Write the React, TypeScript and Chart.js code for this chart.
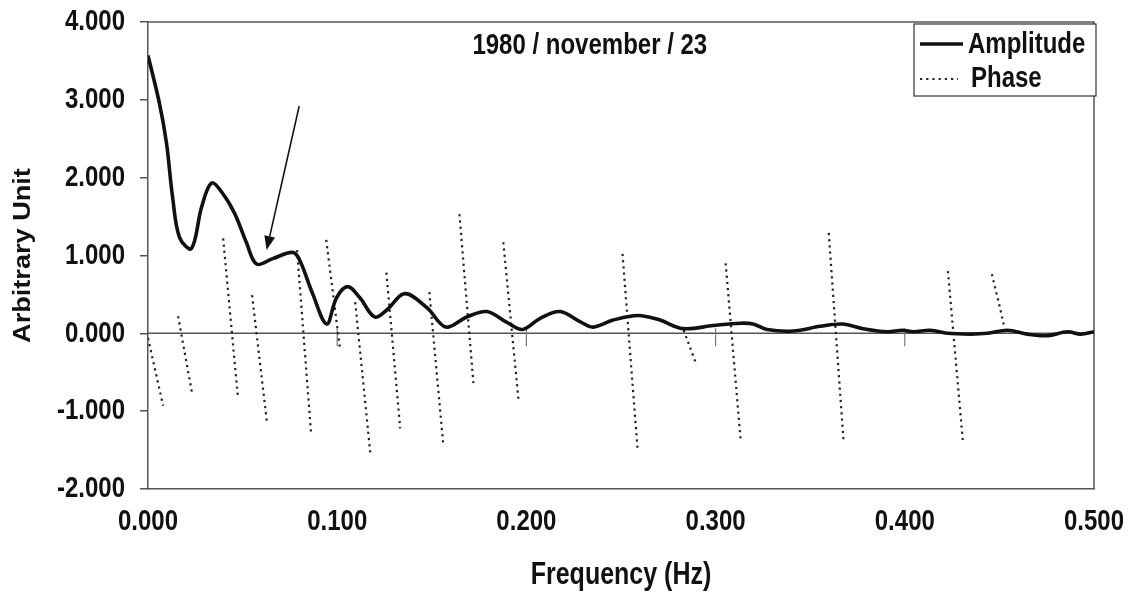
import { useEffect, useRef } from "react";
import { Chart, registerables } from "chart.js";

Chart.register(...registerables);

// ---- data ----
const ampFreq = [
  0.0, 0.006, 0.0098, 0.013, 0.0167, 0.023, 0.0283, 0.0336, 0.0394, 0.0458,
  0.0521, 0.0574, 0.0659, 0.0765, 0.0802, 0.087, 0.0944, 0.0997, 0.1056, 0.1119,
  0.1198, 0.1262, 0.1357, 0.1474, 0.1574, 0.1685, 0.1791, 0.1897, 0.1981, 0.2071,
  0.2177, 0.2283, 0.2352, 0.2458, 0.259, 0.2706, 0.2828, 0.2987, 0.313, 0.3198,
  0.3272, 0.341, 0.3553, 0.3669, 0.378, 0.3907, 0.3987, 0.4045, 0.4135, 0.4225,
  0.4347, 0.4437, 0.4542, 0.4648, 0.4754, 0.486, 0.4929, 0.5,
];
const ampValue = [
  3.57, 2.96, 2.44, 1.75, 1.23, 1.09, 1.62, 1.93, 1.8, 1.54,
  1.16, 0.89, 0.96, 1.04, 0.94, 0.51, 0.12, 0.46, 0.6, 0.46,
  0.21, 0.3, 0.51, 0.33, 0.08, 0.21, 0.28, 0.14, 0.05, 0.19,
  0.28, 0.15, 0.08, 0.17, 0.23, 0.17, 0.06, 0.1, 0.13, 0.12,
  0.05, 0.03, 0.09, 0.12, 0.06, 0.02, 0.04, 0.02, 0.04, 0.0,
  -0.01, 0.0, 0.04, -0.01, -0.03, 0.02, -0.01, 0.02,
];

// phase: separate dotted strokes, null values break the line
const phaseFreq = [
  0.0, 0.008, 0.008,
  0.0159, 0.0233, 0.0233,
  0.0397, 0.0476, 0.0476,
  0.055, 0.063, 0.063,
  0.0788, 0.0862, 0.0862,
  0.0942, 0.1016, 0.1016,
  0.1095, 0.1175, 0.1175,
  0.126, 0.1333, 0.1333,
  0.1487, 0.156, 0.156,
  0.1646, 0.172, 0.172,
  0.1878, 0.1958, 0.1958,
  0.2508, 0.2587, 0.2587,
  0.2831, 0.29, 0.29,
  0.3053, 0.3132, 0.3132,
  0.3598, 0.3677, 0.3677,
  0.4228, 0.4307, 0.4307,
  0.446, 0.4497, 0.4524,
];
const phaseValue: (number | null)[] = [
  -0.06, -0.93, null,
  0.22, -0.77, null,
  1.22, -0.84, null,
  0.49, -1.17, null,
  1.07, -1.29, null,
  1.2, -0.22, null,
  0.4, -1.54, null,
  0.78, -1.22, null,
  0.53, -1.41, null,
  1.53, -0.64, null,
  1.17, -0.85, null,
  1.02, -1.47, null,
  0.04, -0.41, null,
  0.9, -1.36, null,
  1.29, -1.41, null,
  0.8, -1.39, null,
  0.76, 0.39, 0.1,
];

const xMin = 0;
const xMax = 0.5;
const xStep = 0.1;
const yMin = -2;
const yMax = 4;
const yStep = 1;

const arrowFrom = [0.0799, 2.92];
const arrowTo = [0.0627, 1.07];

const chartTitle = "1980 / november / 23";
const xTitle = "Frequency (Hz)";
const yTitle = "Arbitrary Unit";
const ampLabel = "Amplitude";
const phaseLabel = "Phase";

const FONT = "'Liberation Sans', Arial, Helvetica, sans-serif";
const INK = "#111";
const STRETCH = 1.25; // the scanned original has vertically stretched lettering

function stretchedText(ctx: any, text: string, x: number, y: number, align: string, size: number, sy = STRETCH) {
  ctx.save();
  ctx.translate(x, y);
  ctx.scale(1, sy);
  ctx.font = `bold ${size}px ${FONT}`;
  ctx.fillStyle = INK;
  ctx.textAlign = align;
  ctx.textBaseline = "middle";
  ctx.fillText(text, 0, 0);
  ctx.restore();
}

const fmt = (v: number) => Number(v).toFixed(3);

const decorPlugin = {
  id: "decor",
  beforeDraw(chart: any) {
    const ctx = chart.ctx;
    ctx.save();
    ctx.fillStyle = "#fff";
    ctx.fillRect(0, 0, chart.width, chart.height);
    ctx.restore();
  },
  beforeDatasetsDraw(chart: any) {
    const ctx = chart.ctx;
    const { left, right, top, bottom } = chart.chartArea;
    const xs = chart.scales.x;
    const ys = chart.scales.y;
    ctx.save();
    // top and right plot border
    ctx.strokeStyle = "#555";
    ctx.lineWidth = 1.5;
    ctx.beginPath();
    ctx.moveTo(left, top);
    ctx.lineTo(right, top);
    ctx.lineTo(right, bottom);
    ctx.stroke();
    // zero line with cross ticks
    const y0 = ys.getPixelForValue(0);
    ctx.strokeStyle = "#555";
    ctx.lineWidth = 1.5;
    ctx.beginPath();
    ctx.moveTo(left, y0);
    ctx.lineTo(right, y0);
    ctx.stroke();
    ctx.lineWidth = 1.2;
    ctx.strokeStyle = "#777";
    for (let v = xMin + xStep; v < xMax - 1e-9; v += xStep) {
      const px = xs.getPixelForValue(v);
      ctx.beginPath();
      ctx.moveTo(px, y0 - 5);
      ctx.lineTo(px, y0 + 13);
      ctx.stroke();
    }
    ctx.restore();
  },
  afterDatasetsDraw(chart: any) {
    const ctx = chart.ctx;
    const { left, right, top, bottom, width, height } = chart.chartArea;
    const xs = chart.scales.x;
    const ys = chart.scales.y;
    ctx.save();

    // tick labels (from the scales' own ticks)
    ys.ticks.forEach((t: any) => {
      stretchedText(ctx, fmt(t.value), left - 23, ys.getPixelForValue(t.value), "right", 24);
    });
    xs.ticks.forEach((t: any) => {
      stretchedText(ctx, fmt(t.value), xs.getPixelForValue(t.value), bottom + 33, "center", 24);
    });

    // axis titles
    stretchedText(ctx, xTitle, left + width / 2, chart.height - 21, "center", 25);
    ctx.save();
    ctx.translate(23, top + height / 2);
    ctx.scale(1, 1.13);
    ctx.rotate(-Math.PI / 2);
    ctx.font = `bold 24px ${FONT}`;
    ctx.fillStyle = INK;
    ctx.textAlign = "center";
    ctx.textBaseline = "middle";
    ctx.fillText(yTitle, 0, 0);
    ctx.restore();

    // arrow
    const x1 = xs.getPixelForValue(arrowFrom[0]);
    const y1 = ys.getPixelForValue(arrowFrom[1]);
    const x2 = xs.getPixelForValue(arrowTo[0]);
    const y2 = ys.getPixelForValue(arrowTo[1]);
    const ang = Math.atan2(y2 - y1, x2 - x1);
    const headLen = 14;
    const headHalf = 5.5;
    const bx = x2 - headLen * Math.cos(ang);
    const by = y2 - headLen * Math.sin(ang);
    ctx.strokeStyle = INK;
    ctx.fillStyle = INK;
    ctx.lineWidth = 1.6;
    ctx.beginPath();
    ctx.moveTo(x1, y1);
    ctx.lineTo(bx, by);
    ctx.stroke();
    ctx.beginPath();
    ctx.moveTo(x2, y2);
    ctx.lineTo(bx + headHalf * Math.sin(ang), by - headHalf * Math.cos(ang));
    ctx.lineTo(bx - headHalf * Math.sin(ang), by + headHalf * Math.cos(ang));
    ctx.closePath();
    ctx.fill();

    // title inside plot
    stretchedText(ctx, chartTitle, left + width * 0.467, top + 24, "center", 24);

    // legend box
    const bw = 182;
    const bh = 72;
    const bl = right - 180;
    const bt = top + 2;
    ctx.fillStyle = "#fff";
    ctx.fillRect(bl, bt, bw, bh);
    ctx.strokeStyle = "#333";
    ctx.lineWidth = 1.2;
    ctx.strokeRect(bl, bt, bw, bh);
    const ds = chart.data.datasets;
    // amplitude sample
    ctx.strokeStyle = ds[0].borderColor;
    ctx.lineWidth = ds[0].borderWidth;
    ctx.setLineDash([]);
    ctx.beginPath();
    ctx.moveTo(bl + 6, bt + 20);
    ctx.lineTo(bl + 49, bt + 20);
    ctx.stroke();
    // phase sample
    ctx.strokeStyle = ds[1].borderColor;
    ctx.lineWidth = ds[1].borderWidth;
    ctx.setLineDash(ds[1].borderDash);
    ctx.beginPath();
    ctx.moveTo(bl + 6, bt + 55);
    ctx.lineTo(bl + 44, bt + 55);
    ctx.stroke();
    ctx.setLineDash([]);
    stretchedText(ctx, ds[0].label, bl + 54, bt + 21, "left", 24);
    stretchedText(ctx, ds[1].label, bl + 57, bt + 55, "left", 24);

    ctx.restore();
  },
};

export default function App() {
  const ref = useRef<HTMLCanvasElement | null>(null);

  useEffect(() => {
    const canvas = ref.current;
    if (!canvas) return;
    const amp = ampFreq.map((f, i) => ({ x: f, y: ampValue[i] }));
    const phase = phaseFreq.map((f, i) => ({ x: f, y: phaseValue[i] }));
    const chart = new Chart(canvas, {
      type: "line",
      data: {
        datasets: [
          {
            label: ampLabel,
            data: amp,
            borderColor: "#111",
            borderWidth: 3.6,
            pointRadius: 0,
            fill: false,
            tension: 0.35,
            order: 1,
          },
          {
            label: phaseLabel,
            data: phase as any,
            borderColor: "#222",
            borderWidth: 2.2,
            borderDash: [2.2, 4],
            pointRadius: 0,
            fill: false,
            tension: 0,
            spanGaps: false,
            order: 2,
          },
        ],
      },
      options: {
        animation: false,
        responsive: false,
        devicePixelRatio: 1,
        layout: { padding: { top: 22, right: 39, left: 0, bottom: 0 } },
        plugins: {
          legend: { display: false },
          title: { display: false },
          tooltip: { enabled: false },
        },
        scales: {
          x: {
            type: "linear",
            min: xMin,
            max: xMax,
            afterFit: (s: any) => {
              s.height = 107;
              s.paddingLeft = 0;
              s.paddingRight = 0;
            },
            ticks: {
              display: false,
              stepSize: xStep,
              maxRotation: 0,
            },
            grid: { drawOnChartArea: false, drawTicks: false },
            border: { display: true, color: "#555", width: 1.5 },
            title: { display: false, text: xTitle },
          },
          y: {
            type: "linear",
            min: yMin,
            max: yMax,
            afterFit: (s: any) => {
              s.width = 148;
              s.paddingTop = 0;
              s.paddingBottom = 0;
            },
            ticks: {
              display: false,
              stepSize: yStep,
            },
            grid: {
              drawOnChartArea: false,
              drawTicks: true,
              tickLength: 8,
              color: "#555",
              lineWidth: 1.5,
            },
            border: { display: true, color: "#555", width: 1.5 },
            title: { display: false, text: yTitle },
          },
        },
      },
      plugins: [decorPlugin],
    });
    return () => chart.destroy();
  }, []);

  return (
    <div style={{ position: "fixed", left: 0, top: 0, width: 1133, height: 596, background: "#fff" }}>
      <canvas ref={ref} width={1133} height={596} style={{ display: "block", width: 1133, height: 596 }} />
    </div>
  );
}
